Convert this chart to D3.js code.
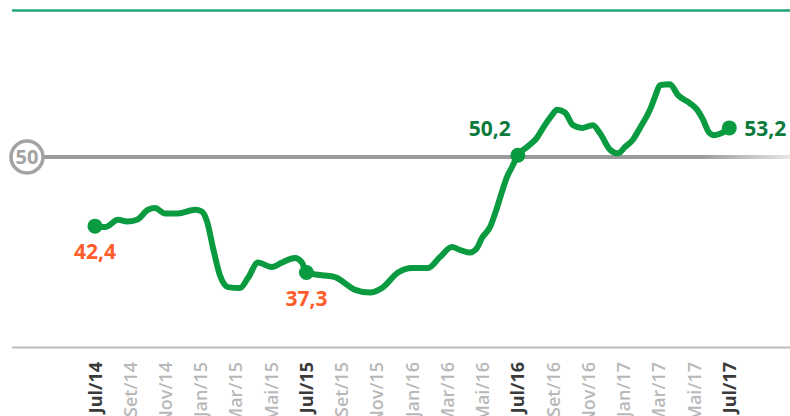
<!DOCTYPE html>
<html>
<head>
<meta charset="utf-8">
<script src="https://d3js.org/d3.v7.min.js"></script>
<style>
  body { margin: 0; background: #fff; }
  svg { display: block; font-family: "Open Sans", "Noto Sans", sans-serif; }
</style>
</head>
<body>
<svg id="chart" width="790" height="416"></svg>
<script>
  // months since Jul/14 and index value
  var months = [0, 0.57, 1.31, 1.82, 2.38, 3.01, 3.41, 3.97, 4.71, 5.68, 6.07, 6.36, 6.7, 7.09, 7.55, 8.23,
    8.68, 9.25, 10.05, 10.61, 11.35, 11.75, 12, 12.88, 13.62, 14.76, 15.61, 16.29, 17.2, 18, 18.9, 19.58,
    20.26, 20.7, 21.28, 21.68, 21.96, 22.42, 22.81, 23.1, 23.38, 23.67, 24, 24.52, 25.08, 25.43, 25.94,
    26.22, 26.67, 27.13, 27.64, 28.26, 28.66, 29.23, 29.68, 30.08, 30.53, 30.93, 31.5, 31.78, 32.07,
    32.63, 33.09, 33.77, 34.17, 34.51, 34.85, 35.14, 35.54, 36];
  var values = [42.4, 42.3, 43.1, 42.9, 43.1, 44.2, 44.4, 43.8, 43.8, 44.2, 44.0, 42.9, 40.0, 37.0, 35.7, 35.6,
    36.7, 38.4, 37.9, 38.4, 38.9, 38.4, 37.3, 37.0, 36.8, 35.4, 35.1, 35.6, 37.3, 37.8, 37.8, 39.0,
    40.1, 39.8, 39.5, 40.0, 41.1, 42.3, 44.4, 46.2, 47.8, 48.9, 50.2, 51.1, 52.1, 53.2, 54.6,
    55.2, 54.9, 53.5, 53.2, 53.5, 52.6, 50.8, 50.4, 51.1, 51.9, 53.2, 55.2, 56.6, 57.9,
    58.0, 56.8, 55.9, 55.2, 54.1, 52.7, 52.4, 52.6, 53.2];

  var tickLabels = ["Jul/14", "Set/14", "Nov/14", "Jan/15", "Mar/15", "Mai/15", "Jul/15", "Set/15", "Nov/15",
    "Jan/16", "Mar/16", "Mai/16", "Jul/16", "Set/16", "Nov/16", "Jan/17", "Mar/17", "Mai/17", "Jul/17"];

  var highlightMonths = [0, 12, 24, 36];
  var highlightValues = [42.4, 37.3, 50.2, 53.2];
  var highlightText = ["42,4", "37,3", "50,2", "53,2"];

  var svg = d3.select("#chart");

  var x = d3.scaleLinear().domain([0, 36]).range([95, 729.3]);
  var y = d3.scaleLinear().domain([30, 65]).range([339, 20.5]);

  // top and bottom rules
  svg.append("line").attr("x1", 12).attr("x2", 790).attr("y1", 10.5).attr("y2", 10.5)
    .attr("stroke", "#22a679").attr("stroke-width", 2.5);
  svg.append("line").attr("x1", 12).attr("x2", 790).attr("y1", 347.5).attr("y2", 347.5)
    .attr("stroke", "#bdbdbd").attr("stroke-width", 2);

  // 50 reference line with fade at the end
  var grad = svg.append("defs").append("linearGradient").attr("id", "fade")
    .attr("x1", "0%").attr("x2", "100%");
  grad.append("stop").attr("offset", "0%").attr("stop-color", "#9b9b9b");
  grad.append("stop").attr("offset", "88%").attr("stop-color", "#9b9b9b");
  grad.append("stop").attr("offset", "100%").attr("stop-color", "#e6e6e6");

  svg.append("rect").attr("x", 44).attr("y", y(50) - 2).attr("width", 746).attr("height", 4)
    .attr("fill", "url(#fade)");
  svg.append("circle").attr("cx", 27).attr("cy", y(50)).attr("r", 16)
    .attr("fill", "#fff").attr("stroke", "#a3a3a3").attr("stroke-width", 3.5);
  svg.append("text").attr("x", 27).attr("y", y(50)).attr("dy", "0.36em")
    .attr("text-anchor", "middle").attr("font-size", 20).attr("font-weight", 700)
    .attr("fill", "#a3a3a3").text("50");

  // x tick labels
  svg.append("g").selectAll("text").data(tickLabels).enter().append("text")
    .attr("transform", function(d, i) { return "translate(" + (x(i * 2) + 6.5) + ",362) rotate(-90)"; })
    .attr("text-anchor", "end")
    .attr("font-size", 18)
    .attr("font-weight", function(d) { return d.indexOf("Jul") === 0 ? 700 : 600; })
    .attr("fill", function(d) { return d.indexOf("Jul") === 0 ? "#3a3a3a" : "#b8b8b8"; })
    .text(function(d) { return d; });

  // the series
  var pts = months.map(function(m, i) { return [m, values[i]]; });
  var line = d3.line()
    .x(function(d) { return x(d[0]); })
    .y(function(d) { return y(d[1]); })
    .curve(d3.curveMonotoneX);

  svg.append("path").attr("d", line(pts))
    .attr("fill", "none").attr("stroke", "#0a9a40").attr("stroke-width", 6)
    .attr("stroke-linejoin", "round").attr("stroke-linecap", "round");

  svg.append("g").selectAll("circle").data(highlightMonths).enter().append("circle")
    .attr("cx", function(d) { return x(d); })
    .attr("cy", function(d, i) { return y(highlightValues[i]); })
    .attr("r", 7.5)
    .attr("fill", "#0a9a40");

  // value labels
  var lbl = svg.append("g").attr("font-size", 21).attr("font-weight", 700);
  highlightMonths.forEach(function(m, i) {
    var v = highlightValues[i];
    var t = lbl.append("text").text(highlightText[i]);
    if (v < 50) {
      t.attr("x", x(m)).attr("y", y(v) + 33).attr("text-anchor", "middle").attr("fill", "#ff5c2b");
    } else if (i === 2) {
      t.attr("x", x(m) - 28).attr("y", y(v) - 19).attr("text-anchor", "middle").attr("fill", "#0b7a3c");
    } else {
      t.attr("x", x(m) + 15).attr("y", y(v) + 8).attr("text-anchor", "start").attr("fill", "#0b7a3c");
    }
  });
</script>
</body>
</html>
